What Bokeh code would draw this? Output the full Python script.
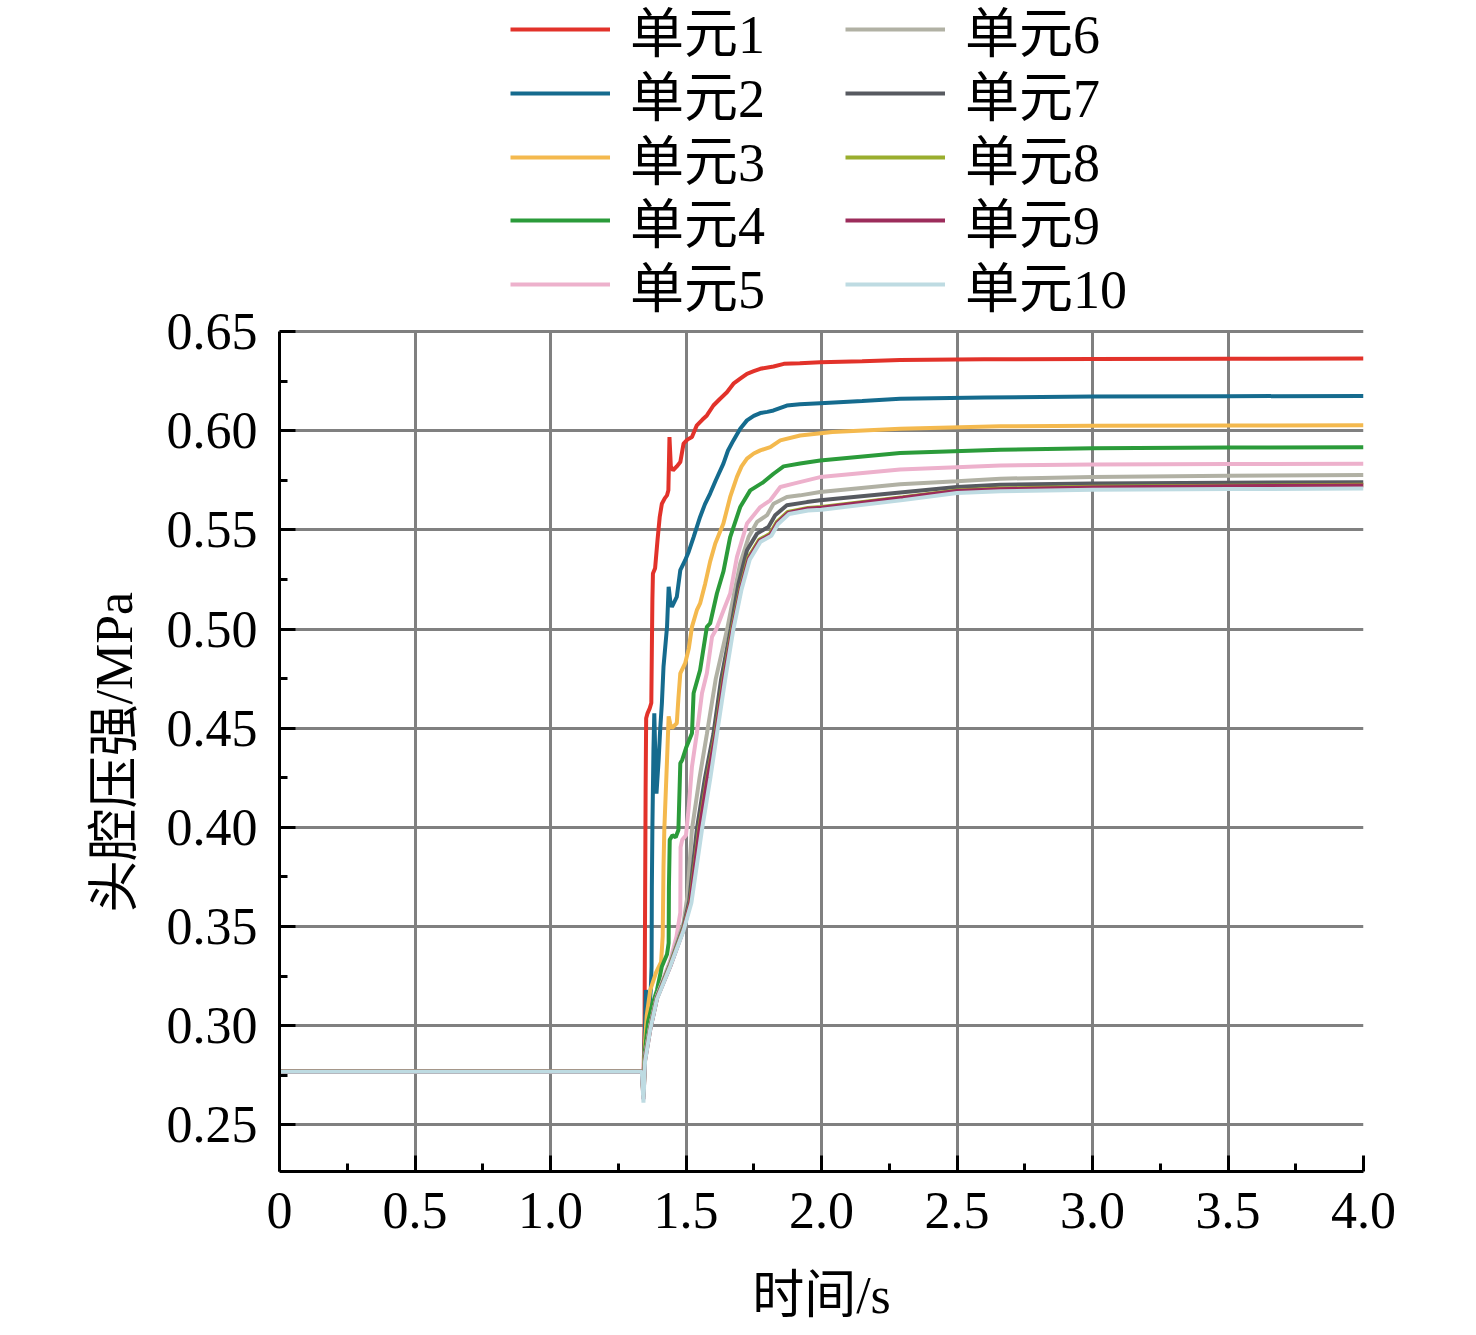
from bokeh.plotting import figure
from bokeh.models import Legend, LegendItem, FixedTicker, Range1d, PrintfTickFormatter, Title
from bokeh.embed import file_html
from bokeh.resources import INLINE

# ---------------- data ----------------
x_ticks = [0.0, 0.5, 1.0, 1.5, 2.0, 2.5, 3.0, 3.5, 4.0]
x_minor = [0.25, 0.75, 1.25, 1.75, 2.25, 2.75, 3.25, 3.75]
y_ticks = [0.25, 0.30, 0.35, 0.40, 0.45, 0.50, 0.55, 0.60, 0.65]
y_minor = [0.275, 0.325, 0.375, 0.425, 0.475, 0.525, 0.575, 0.625]
y_axis_lo, y_axis_hi = 0.2265, 0.65

names = ["单元1", "单元2", "单元3", "单元4", "单元5", "单元6", "单元7", "单元8", "单元9", "单元10"]
colors = ["#E2322A", "#156B8E", "#F4B94E", "#2B9B3A", "#EDB1CC",
          "#B1B1A4", "#575A60", "#9AAE2E", "#9C2C5B", "#BEDBE2"]

x1 = [0.0, 1.337, 1.343, 1.347, 1.349, 1.351, 1.353, 1.358, 1.366, 1.372, 1.374, 1.376, 1.378, 1.386, 1.395,
      1.403, 1.411, 1.422, 1.430, 1.435, 1.439, 1.444, 1.452, 1.466, 1.479, 1.491, 1.505, 1.522, 1.540, 1.560,
      1.577, 1.601, 1.625, 1.651, 1.675, 1.700, 1.725, 1.750, 1.774, 1.823, 1.861, 1.920, 1.995, 2.150, 2.290,
      2.600, 3.000, 3.500, 4.000]
y1 = [0.2768, 0.2768, 0.272, 0.300, 0.360, 0.420, 0.455, 0.4575, 0.460, 0.4627, 0.490, 0.515, 0.528, 0.5307, 0.545,
      0.5565, 0.5632, 0.5660, 0.5674, 0.5700, 0.5968, 0.5820, 0.5800, 0.5820, 0.5842, 0.5935, 0.5955, 0.5968, 0.6027, 0.6055,
      0.6077, 0.6127, 0.6160, 0.6194, 0.6237, 0.6262, 0.6287, 0.6300, 0.6312, 0.6324, 0.6337, 0.6340, 0.6345, 0.6350, 0.6357,
      0.6360, 0.6362, 0.6363, 0.6364]

x2 = [0.0, 1.337, 1.343, 1.349, 1.352, 1.358, 1.364, 1.370, 1.373, 1.374, 1.376, 1.380, 1.383, 1.387, 1.391,
      1.399, 1.405, 1.411, 1.417, 1.430, 1.436, 1.442, 1.448, 1.466, 1.479, 1.497, 1.510, 1.528, 1.552, 1.570,
      1.589, 1.610, 1.638, 1.655, 1.675, 1.700, 1.725, 1.750, 1.774, 1.800, 1.823, 1.872, 1.920, 1.995, 2.150,
      2.290, 2.600, 3.000, 3.500, 4.000]
y2 = [0.2768, 0.2768, 0.270, 0.300, 0.318, 0.310, 0.308, 0.318, 0.330, 0.370, 0.400, 0.440, 0.4575, 0.435, 0.417,
      0.434, 0.450, 0.4625, 0.481, 0.5011, 0.5213, 0.5140, 0.5112, 0.5162, 0.5297, 0.5347, 0.5390, 0.5464, 0.5565, 0.5630,
      0.5683, 0.5750, 0.5834, 0.5900, 0.5951, 0.6010, 0.6052, 0.6075, 0.6089, 0.6095, 0.6102, 0.6127, 0.6133, 0.6139, 0.6150,
      0.6161, 0.6168, 0.6172, 0.6174, 0.6175]

x3 = [0.0, 1.337, 1.343, 1.349, 1.355, 1.368, 1.390, 1.408, 1.414, 1.417, 1.420, 1.430, 1.436, 1.442, 1.448,
      1.466, 1.472, 1.479, 1.497, 1.510, 1.522, 1.540, 1.552, 1.571, 1.589, 1.608, 1.638, 1.663, 1.688, 1.705,
      1.725, 1.750, 1.774, 1.811, 1.848, 1.921, 2.040, 2.290, 2.660, 3.000, 3.500, 4.000]
y3 = [0.2768, 0.2768, 0.272, 0.292, 0.305, 0.318, 0.327, 0.332, 0.345, 0.380, 0.399, 0.434, 0.456, 0.452, 0.450,
      0.4525, 0.465, 0.4777, 0.4828, 0.490, 0.5011, 0.5095, 0.5129, 0.5230, 0.5340, 0.5431, 0.5532, 0.5666, 0.5767, 0.5820,
      0.5859, 0.5885, 0.5901, 0.5917, 0.5951, 0.5976, 0.5993, 0.6010, 0.6022, 0.6025, 0.6026, 0.6027]

x4 = [0.0, 1.337, 1.343, 1.349, 1.360, 1.374, 1.393, 1.411, 1.430, 1.436, 1.437, 1.440, 1.450, 1.462, 1.472,
      1.479, 1.486, 1.500, 1.522, 1.528, 1.552, 1.577, 1.589, 1.614, 1.638, 1.663, 1.700, 1.737, 1.786, 1.823,
      1.860, 1.921, 1.995, 2.290, 2.660, 3.000, 3.500, 4.000]
y4 = [0.2768, 0.2768, 0.270, 0.288, 0.302, 0.3098, 0.318, 0.3299, 0.336, 0.3417, 0.370, 0.3937, 0.3960, 0.3950, 0.3987,
      0.4323, 0.4340, 0.4400, 0.4474, 0.4676, 0.4793, 0.5011, 0.5028, 0.5179, 0.5290, 0.5464, 0.5615, 0.5699, 0.5741, 0.5783,
      0.5820, 0.5835, 0.5850, 0.5887, 0.5904, 0.5912, 0.5915, 0.5917]

x5 = [0.0, 1.337, 1.343, 1.349, 1.368, 1.393, 1.420, 1.442, 1.465, 1.479, 1.480, 1.486, 1.500, 1.510, 1.522,
      1.540, 1.559, 1.577, 1.596, 1.612, 1.640, 1.663, 1.688, 1.725, 1.774, 1.811, 1.848, 1.897, 1.995, 2.290,
      2.660, 3.000, 3.500, 4.000]
y5 = [0.2768, 0.2768, 0.268, 0.285, 0.300, 0.3150, 0.325, 0.333, 0.345, 0.357, 0.390, 0.3937, 0.3960, 0.4100, 0.4306,
      0.4474, 0.4676, 0.4777, 0.4961, 0.5000, 0.5100, 0.5179, 0.5364, 0.5532, 0.5615, 0.5649, 0.5716, 0.5733, 0.5766, 0.5804,
      0.5825, 0.5830, 0.5832, 0.5833]

x6 = [0.0, 1.337, 1.343, 1.349, 1.368, 1.393, 1.442, 1.491, 1.505, 1.522, 1.550, 1.577, 1.610, 1.652, 1.668,
      1.700, 1.731, 1.762, 1.799, 1.823, 1.872, 1.921, 1.995, 2.290, 2.500, 2.660, 3.000, 3.500, 4.000]
y6 = [0.2768, 0.2768, 0.266, 0.285, 0.300, 0.315, 0.332, 0.352, 0.365, 0.399, 0.425, 0.447, 0.475, 0.500, 0.5112,
      0.533, 0.5464, 0.554, 0.5574, 0.5632, 0.5666, 0.5674, 0.5691, 0.5730, 0.5745, 0.5758, 0.5767, 0.5773, 0.5777]

x7 = [0.0, 1.337, 1.343, 1.349, 1.368, 1.393, 1.442, 1.491, 1.512, 1.540, 1.570, 1.601, 1.630, 1.665, 1.694,
      1.725, 1.762, 1.804, 1.829, 1.872, 1.946, 1.995, 2.300, 2.500, 2.660, 3.000, 3.500, 4.000]
y7 = [0.2768, 0.2768, 0.265, 0.284, 0.299, 0.3145, 0.331, 0.350, 0.363, 0.399, 0.425, 0.447, 0.475, 0.500, 0.523,
      0.5397, 0.5481, 0.5515, 0.5574, 0.5624, 0.5640, 0.5649, 0.5690, 0.5716, 0.5728, 0.5734, 0.5738, 0.5740]

x8 = [0.0, 1.337, 1.343, 1.349, 1.368, 1.393, 1.442, 1.491, 1.515, 1.548, 1.578, 1.608, 1.638, 1.670, 1.700,
      1.730, 1.770, 1.810, 1.835, 1.875, 1.950, 2.000, 2.300, 2.500, 2.660, 3.000, 3.500, 4.000]
y8 = [0.2768, 0.2768, 0.264, 0.283, 0.2985, 0.314, 0.3305, 0.349, 0.362, 0.399, 0.425, 0.447, 0.475, 0.500, 0.520,
      0.536, 0.545, 0.548, 0.554, 0.559, 0.561, 0.5615, 0.5665, 0.5699, 0.5708, 0.5717, 0.5723, 0.5727]

x9 = [0.0, 1.337, 1.343, 1.349, 1.368, 1.393, 1.442, 1.491, 1.516, 1.550, 1.580, 1.610, 1.640, 1.672, 1.702,
      1.732, 1.772, 1.812, 1.837, 1.877, 1.950, 2.000, 2.300, 2.500, 2.660, 3.000, 3.500, 4.000]
y9 = [0.2768, 0.2768, 0.263, 0.2825, 0.298, 0.3138, 0.330, 0.3485, 0.362, 0.399, 0.425, 0.447, 0.475, 0.500, 0.520,
      0.5355, 0.5445, 0.5475, 0.5535, 0.5585, 0.5607, 0.5612, 0.5662, 0.5696, 0.5705, 0.5714, 0.5720, 0.5724]

x10 = [0.0, 1.337, 1.343, 1.349, 1.368, 1.393, 1.442, 1.491, 1.520, 1.559, 1.590, 1.614, 1.645, 1.675, 1.705,
       1.735, 1.775, 1.815, 1.840, 1.880, 1.950, 2.000, 2.300, 2.500, 2.660, 3.000, 3.500, 4.000]
y10 = [0.2768, 0.2768, 0.2612, 0.282, 0.298, 0.3135, 0.330, 0.348, 0.362, 0.399, 0.425, 0.447, 0.475, 0.500, 0.520,
       0.535, 0.544, 0.547, 0.553, 0.558, 0.5598, 0.5602, 0.5650, 0.5686, 0.5695, 0.5702, 0.5706, 0.5708]

xs = [x1, x2, x3, x4, x5, x6, x7, x8, x9, x10]
ys = [y1, y2, y3, y4, y5, y6, y7, y8, y9, y10]

SERIF = "Liberation Serif, Noto Sans CJK SC"

# frame runs from the top of the canvas so the legend sits inside it;
# the y range is extended upward to leave room for it
p = figure(width=1468, height=1327, output_backend="svg", toolbar_location=None,
           x_range=Range1d(0, 4), y_range=Range1d(y_axis_lo, 0.8169),
           min_border_left=279, min_border_right=105, min_border_top=0, min_border_bottom=156)
p.background_fill_color = "white"
p.border_fill_color = "white"
p.outline_line_color = None

p.xaxis.ticker = FixedTicker(ticks=x_ticks, minor_ticks=x_minor)
p.yaxis.ticker = FixedTicker(ticks=y_ticks, minor_ticks=y_minor)
p.yaxis.bounds = (y_axis_lo, y_axis_hi)
p.xgrid.ticker = FixedTicker(ticks=x_ticks)
p.ygrid.ticker = FixedTicker(ticks=y_ticks)
for g in (p.xgrid, p.ygrid):
    g.grid_line_color = "#808080"
    g.grid_line_width = 3

xg = p.xgrid[0]
if "cross_bounds" in xg.properties():
    xg.cross_bounds = (y_axis_lo, y_axis_hi)
else:
    xg.visible = False
    p.segment(x0=x_ticks, y0=[y_axis_lo] * len(x_ticks), x1=x_ticks, y1=[y_axis_hi] * len(x_ticks),
              line_color="#808080", line_width=3)

p.xaxis.formatter = PrintfTickFormatter(format="%.1f")
p.xaxis.major_label_overrides = {0: "0"}
p.yaxis.formatter = PrintfTickFormatter(format="%.2f")

for ax in (p.xaxis, p.yaxis):
    ax.axis_line_color = "black"
    ax.axis_line_width = 3
    ax.major_tick_line_color = "black"
    ax.major_tick_line_width = 3
    ax.minor_tick_line_color = "black"
    ax.minor_tick_line_width = 3
    ax.major_tick_in = 16
    ax.major_tick_out = 0
    ax.minor_tick_in = 8
    ax.minor_tick_out = 0
    ax.major_label_text_font = SERIF
    ax.major_label_text_font_size = "52px"
    ax.major_label_text_color = "black"
    ax.axis_label_text_font = SERIF
    ax.axis_label_text_font_size = "52px"
    ax.axis_label_text_font_style = "normal"
    ax.axis_label_text_color = "black"

p.xaxis.axis_label = "时间/s"
p.xaxis.major_label_standoff = 21
p.yaxis.major_label_standoff = 22
p.xaxis.axis_label_standoff = 36

# y-axis title, placed along the visible part of the axis (not the extended frame)
ytitle = Title(text="头腔压强/MPa", align="left", offset=259, standoff=41,
               text_font=SERIF, text_font_size="52px", text_font_style="normal", text_color="black")
p.add_layout(ytitle, "left")

renderers = [p.line(xs[i], ys[i], line_color=colors[i], line_width=4) for i in range(10)]

# one legend per entry so each row sits exactly where the reference puts it
row_centres = [29, 93, 157, 220, 284]
col_offsets = [231, 566]
ITEM_H = 80
for i in range(10):
    col, row = divmod(i, 5)
    lg = Legend(items=[LegendItem(label=names[i], renderers=[renderers[i]])],
                location=(col_offsets[col], 1171 - row_centres[row] - ITEM_H // 2),
                orientation="vertical")
    lg.label_text_font = SERIF
    lg.label_text_font_size = "54px"
    lg.label_text_color = "black"
    lg.glyph_width = 100
    lg.glyph_height = ITEM_H
    lg.label_height = ITEM_H
    lg.label_width = 170
    lg.label_standoff = 20
    lg.spacing = 0
    lg.padding = 0
    lg.margin = 0
    lg.border_line_alpha = 0
    lg.background_fill_alpha = 0
    p.add_layout(lg)

open("out.html", "w").write(file_html(p, INLINE))
